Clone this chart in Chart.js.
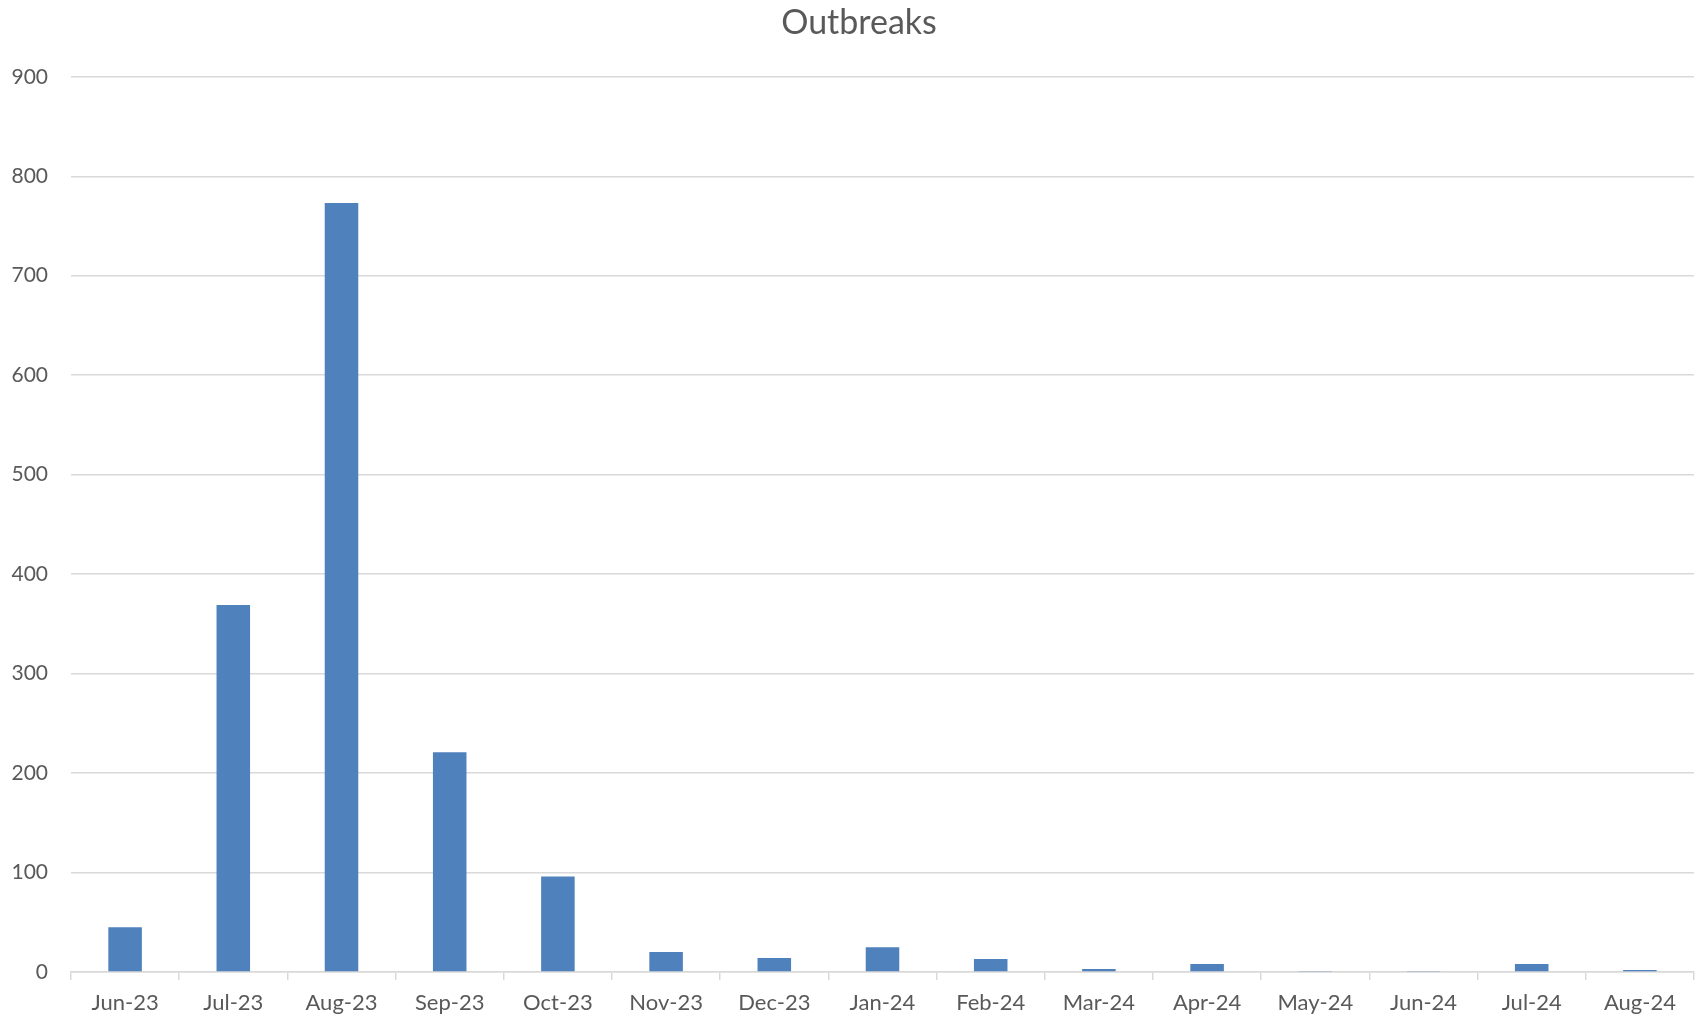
<!DOCTYPE html>
<html>
<head>
<meta charset="utf-8">
<script src="https://cdn.jsdelivr.net/npm/chart.js@4"></script>
<style>
  body { margin: 0; background: #fff; }
  #chart { display: block; }
</style>
</head>
<body>
<canvas id="chart" width="1704" height="1018"></canvas>
<script>
// months on the x axis
const months = ['Jun-23', 'Jul-23', 'Aug-23', 'Sep-23', 'Oct-23', 'Nov-23', 'Dec-23',
    'Jan-24', 'Feb-24', 'Mar-24', 'Apr-24', 'May-24', 'Jun-24', 'Jul-24', 'Aug-24'];

// outbreaks per month
const outbreaks = [45, 369, 773, 221, 96, 20, 14, 25, 13, 3, 8, 1, 1, 8, 2];

const yMin = 0;
const yMax = 900;
const yStep = 100;

const gridGrey = '#d9d9d9';
const textGrey = '#595959';

const ctx = document.getElementById('chart');
const chart = new Chart(ctx, {
    type: 'bar',
    data: {
        labels: months,
        datasets: [{
            label: 'Outbreaks',
            data: outbreaks,
            backgroundColor: '#4f81bd',
            borderWidth: 0,
            categoryPercentage: 1,
            barPercentage: 0.31
        }]
    },
    options: {
        responsive: false,
        animation: false,
        devicePixelRatio: 1,
        layout: {
            // negative right padding + empty right axis puts the title in the canvas centre
            padding: { top: 3, left: 0, right: -14, bottom: 0 }
        },
        plugins: {
            legend: { display: false },
            tooltip: { enabled: false },
            title: {
                display: true,
                text: 'Outbreaks',
                color: textGrey,
                font: { family: 'Lato', size: 34, weight: 'normal' },
                padding: { top: 0, bottom: 33 }
            }
        },
        scales: {
            x: {
                afterFit: (scale) => { scale.height = 46; },
                grid: {
                    offset: true,
                    drawOnChartArea: false,
                    drawTicks: true,
                    tickLength: 8,
                    color: gridGrey,
                    lineWidth: 1.5
                },
                border: { display: true, color: gridGrey, width: 1.5 },
                ticks: {
                    color: textGrey,
                    font: { family: 'Lato', size: 22 },
                    padding: 10,
                    maxRotation: 0,
                    autoSkip: false
                }
            },
            y: {
                min: yMin,
                max: yMax,
                afterFit: (scale) => { scale.width = 71; },
                grid: {
                    color: gridGrey,
                    lineWidth: 1.5,
                    drawTicks: false,
                    tickLength: 0
                },
                border: { display: false },
                ticks: {
                    stepSize: yStep,
                    color: textGrey,
                    font: { family: 'Lato', size: 21 },
                    padding: 23
                }
            },
            spacer: {
                type: 'linear',
                position: 'right',
                afterFit: (scale) => { scale.width = 24; },
                grid: { display: false },
                border: { display: false },
                ticks: { display: false }
            }
        }
    }
});
</script>
</body>
</html>
